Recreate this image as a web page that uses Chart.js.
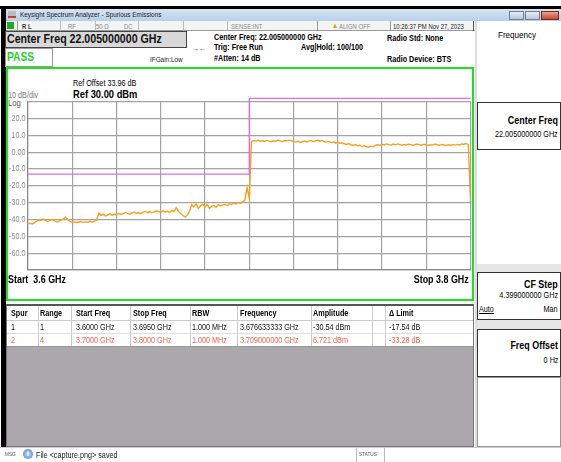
<!DOCTYPE html>
<html><head><meta charset="utf-8">
<script src="https://cdn.jsdelivr.net/npm/chart.js@4.4.1/dist/chart.umd.min.js"></script>
<style>
body{margin:0;width:561px;height:462px;overflow:hidden;background:#fff;font-family:"Liberation Sans",Arial,sans-serif;position:relative}
.b{position:absolute;box-sizing:border-box}
.t{position:absolute;white-space:nowrap;line-height:1;transform:scaleX(.85);transform-origin:0 50%;color:#000}
.r{transform-origin:100% 50%}
.bd{font-weight:bold}
</style></head><body>
<!-- frame -->
<div class="b" style="left:0;width:561px;height:3px;top:6px;background:#000"></div>
<div class="b" style="left:1px;top:6px;width:5px;height:441px;background:#000"></div>
<!-- title bar -->
<div class="b" style="left:6px;top:9px;width:555px;height:12px;background:linear-gradient(#d6e4f4,#b8cfe9)"></div>
<div class="b" style="left:8px;top:11px;width:8px;height:7px;background:#bbb;border-bottom:2px solid #d33"></div>
<div class="t" style="left:20px;top:11px;font-size:7.5px;color:#1a1a1a">Keysight Spectrum Analyzer - Spurious Emissions</div>
<div class="b" style="left:509px;top:11px;width:15px;height:9px;background:linear-gradient(#e8eef6,#b7c6da);border:1px solid #6c7d94"></div>
<div class="b" style="left:525px;top:11px;width:15px;height:9px;background:linear-gradient(#e8eef6,#b7c6da);border:1px solid #6c7d94"></div>
<div class="b" style="left:541px;top:11px;width:18px;height:9px;background:linear-gradient(#e9a08e,#c74a33);border:1px solid #7a2a1c"></div>
<!-- status row -->
<div class="b" style="left:6px;top:21px;width:469px;height:10px;background:#f4f4f4;border-bottom:1px solid #999"></div>
<div class="b" style="left:7px;top:22px;width:7px;height:7px;background:#2a2;"></div>
<div class="b" style="left:17px;top:21px;width:1px;height:10px;background:#999"></div>
<div class="b" style="left:60px;top:21px;width:1px;height:10px;background:#bbb"></div>
<div class="b" style="left:95px;top:21px;width:1px;height:10px;background:#bbb"></div>
<div class="b" style="left:138px;top:21px;width:1px;height:10px;background:#bbb"></div>
<div class="b" style="left:183px;top:21px;width:1px;height:10px;background:#bbb"></div>
<div class="b" style="left:227px;top:21px;width:1px;height:10px;background:#bbb"></div>
<div class="b" style="left:317px;top:21px;width:1px;height:10px;background:#999"></div>
<div class="b" style="left:390px;top:21px;width:1px;height:10px;background:#999"></div>
<div class="b" style="left:473px;top:21px;width:1px;height:10px;background:#555"></div>
<div class="t bd" style="left:22px;top:22.5px;font-size:7px;color:#333">R L</div>
<div class="t" style="left:68px;top:22.5px;font-size:7px;color:#888">RF</div>
<div class="t" style="left:96px;top:22.5px;font-size:7px;color:#888">50 Ω</div>
<div class="t" style="left:124px;top:22.5px;font-size:7px;color:#888">DC</div>
<div class="t" style="left:231px;top:22.5px;font-size:7px;color:#888">SENSE:INT</div>
<div class="t" style="left:332px;top:22px;font-size:7.5px;color:#d8a400">▲</div>
<div class="t" style="left:339px;top:22.5px;font-size:7px;color:#888">ALIGN OFF</div>
<div class="t" style="left:393px;top:22.5px;font-size:7px;color:#222">10:26:37 PM Nov 27, 2023</div>
<!-- header row -->
<div class="b" style="left:5px;top:31px;width:182px;height:17px;background:#d8d8d8;border:1px solid #444"></div>
<div class="t bd" style="left:7px;top:33px;font-size:12.5px;color:#111">Center Freq 22.005000000 GHz</div>
<div class="b" style="left:5px;top:48px;width:48px;height:19px;background:#fff;border:1px solid #999"></div>
<div class="t bd" style="left:7px;top:51px;font-size:12px;color:#1fd01f">PASS</div>
<div class="t" style="left:192px;top:45px;font-size:8px;color:#333">→←</div>
<div class="t" style="left:150px;top:56px;font-size:7.5px;color:#222">IFGain:Low</div>
<div class="t bd" style="left:214px;top:33px;font-size:8.5px">Center Freq: 22.005000000 GHz</div>
<div class="t bd" style="left:214px;top:43px;font-size:8.5px">Trig: Free Run</div>
<div class="t bd" style="left:214px;top:54px;font-size:8.5px">#Atten: 14 dB</div>
<div class="t bd" style="left:301px;top:43px;font-size:8.5px">Avg|Hold: 100/100</div>
<div class="t bd" style="left:387px;top:33.5px;font-size:8.5px">Radio Std: None</div>
<div class="t bd" style="left:387px;top:54.5px;font-size:8.5px">Radio Device: BTS</div>
<!-- graph frame -->
<div class="b" style="left:6px;top:67px;width:468px;height:234px;border:2px solid #19e619;background:#fff"></div>
<div class="t" style="left:73px;top:79px;font-size:8.5px">Ref Offset 33.96 dB</div>
<div class="t bd" style="left:73px;top:89px;font-size:11px">Ref 30.00 dBm</div>
<div class="t" style="left:8px;top:90.5px;font-size:8.5px;color:#777">10 dB/div</div>
<div class="t" style="left:8px;top:99px;font-size:9px;color:#555">Log</div>
<div class="b" style="left:0;top:90px;width:480px;height:190px"><canvas id="c" width="480" height="190"></canvas></div>
<div class="t bd" style="left:8px;top:274px;font-size:10.5px">Start&nbsp; 3.6 GHz</div>
<div class="t bd r" style="right:92px;top:274px;font-size:10.5px">Stop 3.8 GHz</div>
<!-- table -->
<div class="b" style="left:6px;top:304px;width:468px;height:143px;background:#aaa8ab;border:1px solid #777;border-top:2px solid #555"></div>
<div class="b" style="left:7px;top:306px;width:466px;height:40px;background:#fff"></div>
<div class="b" style="left:7px;top:320px;width:466px;height:1px;background:#ccc"></div>
<div class="b" style="left:7px;top:333px;width:466px;height:1px;background:#ddd"></div>
<div class="b" style="left:7px;top:346px;width:466px;height:1px;background:#999"></div>
<div id="cols"></div>
<div id="tbl"></div>
<!-- right panel -->
<div class="b" style="left:475px;top:21px;width:86px;height:426px;background:#fff;border-left:1px solid #888"></div>
<div class="b" style="left:475px;top:21px;width:2px;height:426px;background:#ddd"></div>
<div class="t" style="left:498px;top:30px;font-size:9.5px">Frequency</div>
<div class="b" style="left:477px;top:102px;width:84px;height:48px;border:1px solid #333"></div>
<div class="t bd r" style="right:3px;top:114.5px;font-size:10.5px">Center Freq</div>
<div class="t r" style="right:3px;top:130px;font-size:8.5px">22.005000000 GHz</div>
<div class="b" style="left:477px;top:264px;width:84px;height:8px;background:#e6e6e6"></div>
<div class="b" style="left:477px;top:272px;width:84px;height:48px;border:1px solid #333"></div>
<div class="t bd r" style="right:3px;top:278.5px;font-size:10.5px">CF Step</div>
<div class="t r" style="right:3px;top:291px;font-size:8.5px">4.399000000 GHz</div>
<div class="t" style="left:479px;top:305px;font-size:8.5px;text-decoration:underline">Auto</div>
<div class="t r" style="right:3px;top:305px;font-size:8.5px">Man</div>
<div class="b" style="left:477px;top:320px;width:84px;height:9px;background:#e6e6e6"></div>
<div class="b" style="left:477px;top:329px;width:84px;height:48px;border:1px solid #333"></div>
<div class="t bd r" style="right:3px;top:339.5px;font-size:10.5px">Freq Offset</div>
<div class="t r" style="right:3px;top:356px;font-size:8.5px">0 Hz</div>
<div class="b" style="left:477px;top:377px;width:84px;height:70px;border:1px solid #999"></div>
<!-- message bar -->
<div class="b" style="left:0;top:447px;width:561px;height:15px;background:#fff;border-top:1px solid #ccc"></div>
<div class="t" style="left:5px;top:452px;font-size:5.5px;color:#555">MSG</div>
<div class="b" style="left:23px;top:449px;width:10px;height:10px;border-radius:50%;background:radial-gradient(#cfe3ff,#3a73c9)"></div>
<div class="t bd" style="left:26.5px;top:450px;font-size:8px;color:#fff">i</div>
<div class="t" style="left:36px;top:451px;font-size:8.5px;color:#222">File &lt;capture.png&gt; saved</div>
<div class="b" style="left:356px;top:448px;width:1px;height:14px;background:#bbb"></div>
<div class="b" style="left:384px;top:448px;width:1px;height:14px;background:#bbb"></div>
<div class="t" style="left:359px;top:452px;font-size:5.5px;color:#555">STATUS</div>
<script>
// ---- chart data ----
const startMHz = 3600;
const stepMHz = 1;
const traceDbm = [
-42.5,-42.3,-42.6,-41.8,-41.0,-40.2,-40.6,-39.8,-40.5,-41.2,-40.3,-39.9,-40.8,-41.5,-41.0,-40.2,-39.6,-38.6,-40.1,-41.2,
-41.6,-41.4,-41.8,-41.5,-41.3,-41.7,-41.4,-41.6,-41.2,-41.5,-41.0,-40.6,-36.2,-37.5,-36.8,-37.9,-37.2,-36.5,-37.4,-36.9,
-37.1,-36.3,-37.0,-36.6,-35.8,-36.4,-36.9,-36.1,-35.7,-36.3,-35.9,-36.5,-35.6,-35.2,-35.8,-35.4,-36.0,-35.5,-34.8,-35.3,
-35.7,-34.9,-35.6,-35.1,-35.8,-34.6,-35.3,-33.0,-35.2,-36.4,-37.5,-38.6,-37.4,-35.0,-31.2,-32.5,-30.6,-33.4,-31.8,-30.9,
-32.5,-31.0,-33.4,-32.2,-31.6,-32.8,-31.2,-32.0,-31.4,-30.9,-31.8,-30.6,-31.1,-30.2,-30.8,-29.9,-30.4,-29.5,-28.6,-21.0,
-27.5,
6.3,6.9,6.6,7.1,6.5,6.8,6.4,7.0,6.6,6.2,6.8,6.5,7.2,6.7,6.3,6.9,6.6,7.3,6.8,6.4,
6.0,6.5,5.8,6.2,6.7,6.1,6.6,6.9,6.3,6.8,7.1,6.5,6.9,6.2,6.0,6.4,5.7,6.1,5.5,5.8,
5.3,5.6,5.0,4.6,5.1,4.4,4.0,4.5,3.8,4.1,3.5,3.9,3.2,2.9,3.6,3.3,4.0,4.4,4.1,4.7,
4.3,4.9,4.5,4.2,4.8,4.4,4.9,4.6,4.1,4.5,4.3,4.8,4.5,4.0,4.6,4.9,4.4,4.1,4.7,4.3,
4.0,4.5,4.2,4.8,4.4,4.1,4.6,4.3,4.0,4.4,4.1,4.5,4.2,4.6,4.3,4.9,4.7,5.1,4.6,-29.5
];
const limitFreqMHz = [3600, 3700, 3700, 3800];
const limitDbm = [-13, -13, 32, 32];
const xMinMHz = 3600, xMaxMHz = 3800, xDivMHz = 20;
const yMinDbm = -70, yMaxDbm = 30, yDivDb = 10;

// ---- spur table ----
const tableHeaders = ["Spur","Range","Start Freq","Stop Freq","RBW","Frequency","Amplitude","","Δ Limit"];
const spurNo = ["1","2"];
const spurRange = ["1","4"];
const spurStart = ["3.6000 GHz","3.7000 GHz"];
const spurStop = ["3.6950 GHz","3.8000 GHz"];
const spurRbw = ["1.000 MHz","1.000 MHz"];
const spurFreq = ["3.676633333 GHz","3.709000000 GHz"];
const spurAmp = ["-30.54 dBm","6.721 dBm"];
const spurDelta = ["-17.54 dB","-33.28 dB"];

const colX = [11,40,76,133,192,240,313,372,389];
const sepX = [38,71,130,190,237,311,372,385];
let h='';
sepX.forEach(x=>{h+=`<div class="b" style="left:${x}px;top:306px;width:1px;height:40px;background:#ccc"></div>`;});
document.getElementById('cols').innerHTML=h;
h='';
tableHeaders.forEach((s,i)=>{ if(s) h+=`<div class="t bd" style="left:${colX[i]}px;top:309px;font-size:8.5px">${s}</div>`;});
const rowColors=['#111','#f0604c'];
for(let r=0;r<2;r++){
  const cells=[spurNo[r],spurRange[r],spurStart[r],spurStop[r],spurRbw[r],spurFreq[r],spurAmp[r],'',spurDelta[r]];
  cells.forEach((s,i)=>{ if(s) h+=`<div class="t" style="left:${colX[i]}px;top:${323+r*12.5}px;font-size:8.5px;color:${rowColors[r]}">${s}</div>`;});
}
document.getElementById('tbl').innerHTML=h;

// ---- chart ----
const fmtTick = v => (v===yMaxDbm||v===yMinDbm)?'':(v===0?'0.00':v.toFixed(1));
// draws the y scale's own tick labels slightly condensed, like the analyzer's font
const condensedYLabels = {
  id:'condensedYLabels',
  afterDraw(chart){
    const s = chart.scales.y, ctx = chart.ctx;
    ctx.save();
    ctx.font = '8.5px "Liberation Sans", Arial, sans-serif';
    ctx.fillStyle = '#8c8c8c';
    ctx.textAlign = 'right';
    ctx.textBaseline = 'middle';
    s.ticks.forEach(t=>{
      const lbl = fmtTick(t.value);
      if(!lbl) return;
      ctx.save();
      ctx.translate(s.right - 2.5, s.getPixelForValue(t.value));
      ctx.scale(0.85,1);
      ctx.fillText(lbl,0,0);
      ctx.restore();
    });
    ctx.restore();
  }
};
const tracePts = traceDbm.map((v,i)=>({x:startMHz+i*stepMHz,y:v}));
const limitPts = limitFreqMHz.map((f,i)=>({x:f,y:limitDbm[i]}));
new Chart(document.getElementById('c'),{
  type:'line',
  data:{datasets:[
    {data:limitPts,borderColor:'#e36ae3',borderWidth:1.3,pointRadius:0,tension:0,clip:false},
    {data:tracePts,borderColor:'#f7a21b',borderWidth:1.4,pointRadius:0,tension:0}
  ]},
  plugins:[condensedYLabels],
  options:{
    animation:false,responsive:false,
    layout:{padding:{left:0,right:9.5,top:11.7,bottom:10}},
    plugins:{legend:{display:false},tooltip:{enabled:false}},
    scales:{
      x:{type:'linear',min:xMinMHz,max:xMaxMHz,
         ticks:{display:false,stepSize:xDivMHz},
         grid:{color:'#a3a3a3',lineWidth:1.2,drawTicks:false},
         border:{color:'#8a8a8a',width:1.2}},
      y:{type:'linear',min:yMinDbm,max:yMaxDbm,
         ticks:{display:false,stepSize:yDivDb,callback:fmtTick},
         grid:{color:'#a3a3a3',lineWidth:1.2,drawTicks:false},
         border:{color:'#8a8a8a',width:1.2},
         afterFit(s){s.width=28;}}
    }
  }
});
</script>
</body></html>
